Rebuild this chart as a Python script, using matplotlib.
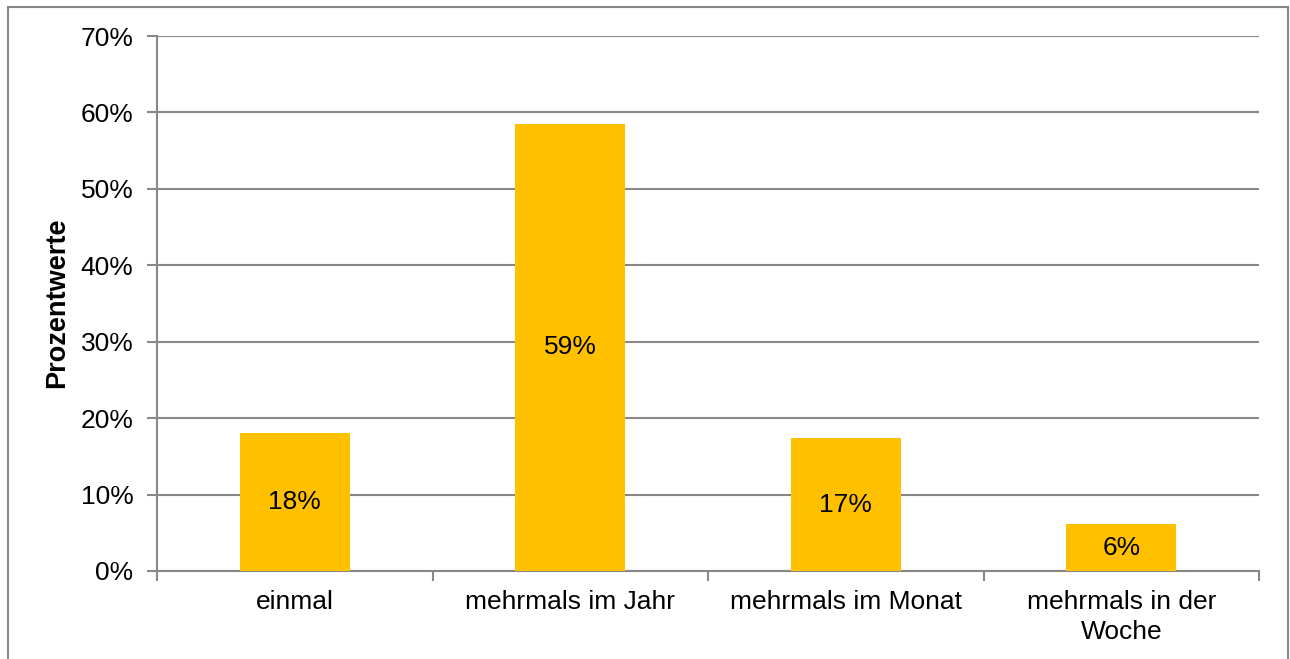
import matplotlib.pyplot as plt
import numpy as np
from matplotlib.patches import Rectangle
from matplotlib.ticker import FixedLocator, PercentFormatter

plt.rcParams['font.family'] = ['Liberation Sans', 'DejaVu Sans']

# data
categories = ['einmal', 'mehrmals im Jahr', 'mehrmals im Monat', 'mehrmals in der\nWoche']
values = [18.1, 58.5, 17.4, 6.1]
labels = ['18%', '59%', '17%', '6%']

grey = '#888888'
bar_col = '#FFC000'

fig = plt.figure(figsize=(12.9, 6.59), dpi=100)
ax = fig.add_axes([157/1290, 1 - 571/659, (1259-157)/1290, (571-36)/659])

x = np.arange(len(categories))
bars = ax.bar(x, values, width=0.4, color=bar_col, zorder=3)

for b, lab in zip(bars, labels):
    ax.text(b.get_x() + b.get_width()/2, b.get_height()/2, lab,
            ha='center', va='center', fontsize=19, zorder=4)

ax.set_xlim(-0.5, len(categories) - 0.5)
ax.set_ylim(0, 70)
ax.set_yticks(np.arange(0, 71, 10))
ax.yaxis.set_major_formatter(PercentFormatter(decimals=0))
ax.grid(axis='y', color=grey, linewidth=1.5, zorder=0)

# category labels centered, ticks at boundaries
ax.set_xticks(x)
ax.set_xticklabels(categories, fontsize=19, linespacing=1.3)
ax.tick_params(axis='x', length=0, pad=14)
ax.xaxis.set_minor_locator(FixedLocator(np.arange(-0.5, len(categories), 1)))
ax.tick_params(axis='x', which='minor', length=7, width=1.5, color=grey)
ax.tick_params(axis='y', length=7, width=1.5, color=grey, labelsize=19, pad=10)

for s in ['top', 'right']:
    ax.spines[s].set_visible(False)
for s in ['left', 'bottom']:
    ax.spines[s].set_color(grey)
    ax.spines[s].set_linewidth(1.5)

ax.set_ylabel('Prozentwerte', fontsize=19.5, fontweight='bold')
ax.yaxis.set_label_coords(57/1290, 1 - 303/659, transform=fig.transFigure)
ax.yaxis.label.set_va('center')

# outer chart border
fig.patches.append(Rectangle((8/1290, -0.05), (1288-8)/1290, 1.05 - 7/659,
                             transform=fig.transFigure, fill=False,
                             edgecolor=grey, linewidth=1.5))

fig.savefig('out.png', dpi=100)
